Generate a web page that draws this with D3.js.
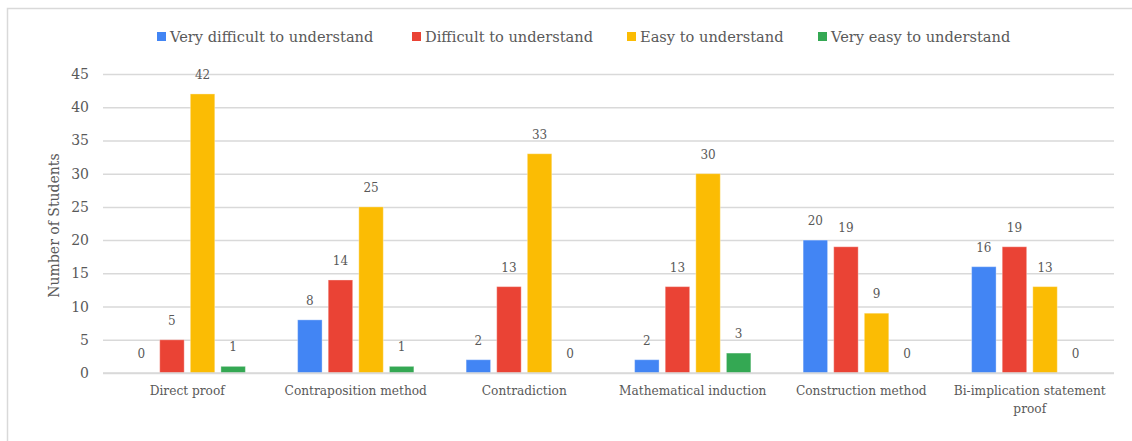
<!DOCTYPE html>
<html>
<head>
<meta charset="utf-8">
<script src="https://cdn.jsdelivr.net/npm/d3@7"></script>
<style>
  html, body { margin: 0; padding: 0; background: #fff; }
  svg { display: block; }
  text { font-family: "DejaVu Serif", "Liberation Serif", serif; fill: #595959; }
</style>
</head>
<body>
<svg id="chart" width="1132" height="441"></svg>
<script>
// Categories of proof methods
const categories = [
  "Direct proof",
  "Contraposition method",
  "Contradiction",
  "Mathematical induction",
  "Construction method",
  "Bi-implication statement proof"
];

// Series names and colours
const seriesNames = [
  "Very difficult to understand",
  "Difficult to understand",
  "Easy to understand",
  "Very easy to understand"
];
const seriesColors = ["#4285F4", "#EA4335", "#FBBC04", "#34A853"];

// Student counts per series, one value per category
const veryDifficult = [0, 8, 2, 2, 20, 16];
const difficult     = [5, 14, 13, 13, 19, 19];
const easy          = [42, 25, 33, 30, 9, 13];
const veryEasy      = [1, 1, 0, 3, 0, 0];
const seriesValues  = [veryDifficult, difficult, easy, veryEasy];

const yTicks = [0, 5, 10, 15, 20, 25, 30, 35, 40, 45];

const svg = d3.select("#chart");
const W = 1132, H = 441;

// outer frame (right and bottom run past the canvas)
svg.append("rect")
  .attr("x", 7.5).attr("y", 8.5)
  .attr("width", W + 10).attr("height", H + 10)
  .attr("fill", "none").attr("stroke", "#d9d9d9").attr("stroke-width", 1.5);

const plot = { left: 103, right: 1114, top: 74, bottom: 373 };

const y = d3.scaleLinear().domain([0, 45]).range([plot.bottom, plot.top]);
const x0 = d3.scaleBand().domain(categories).range([plot.left, plot.right])
  .paddingInner(0.31).paddingOuter(0.155);
const x1 = d3.scaleBand().domain(d3.range(seriesNames.length))
  .range([0, x0.bandwidth()]).paddingInner(0.2);

// gridlines
const yAxis = d3.axisLeft(y).tickValues(yTicks)
  .tickSize(-(plot.right - plot.left)).tickPadding(14);
const gy = svg.append("g").attr("transform", `translate(${plot.left},0)`).call(yAxis);
gy.select(".domain").remove();
gy.selectAll(".tick line").attr("stroke", "#d9d9d9").attr("stroke-width", 1.5);
gy.selectAll(".tick text").style("font-size", "14px").attr("fill", "#595959")
  .style("font-family", "DejaVu Serif, serif");

// y-axis title
svg.append("text")
  .attr("transform", `translate(59,${(plot.top + plot.bottom) / 2 + 2}) rotate(-90)`)
  .attr("text-anchor", "middle")
  .style("font-size", "14px")
  .text("Number of Students");

// bars
const groups = svg.append("g").selectAll("g")
  .data(categories)
  .join("g")
  .attr("transform", d => `translate(${x0(d)},0)`);

groups.each(function (cat, ci) {
  const g = d3.select(this);
  seriesValues.forEach((vals, si) => {
    const v = vals[ci];
    if (v > 0) {
      g.append("rect")
        .attr("x", x1(si))
        .attr("y", y(v))
        .attr("width", x1.bandwidth())
        .attr("height", y(0) - y(v))
        .attr("fill", seriesColors[si])
        .attr("stroke", "#ffffff").attr("stroke-opacity", 0.35).attr("stroke-width", 1);
    }
    g.append("text")
      .attr("x", x1(si) + x1.bandwidth() / 2)
      .attr("y", y(v) - 15)
      .attr("text-anchor", "middle")
      .style("font-size", "12px")
      .text(v);
  });
});

// baseline
svg.append("line")
  .attr("x1", plot.left).attr("x2", plot.right)
  .attr("y1", plot.bottom).attr("y2", plot.bottom)
  .attr("stroke", "#d9d9d9").attr("stroke-width", 1.5);

// category labels (wrap long ones)
const catLines = {
  "Bi-implication statement proof": ["Bi-implication statement", "proof"]
};
categories.forEach(cat => {
  const lines = catLines[cat] || [cat];
  const t = svg.append("text")
    .attr("text-anchor", "middle")
    .style("font-size", "12.2px");
  lines.forEach((ln, i) => {
    t.append("tspan")
      .attr("x", x0(cat) + x0.bandwidth() / 2)
      .attr("y", 395 + i * 18)
      .text(ln);
  });
});

// legend
const legendX = [157, 412, 627, 818];
const legend = svg.append("g");
seriesNames.forEach((name, i) => {
  legend.append("rect")
    .attr("x", legendX[i]).attr("y", 32)
    .attr("width", 9).attr("height", 9)
    .attr("fill", seriesColors[i]);
  legend.append("text")
    .attr("x", legendX[i] + 13).attr("y", 42)
    .style("font-size", "14.6px")
    .text(name);
});
</script>
</body>
</html>
